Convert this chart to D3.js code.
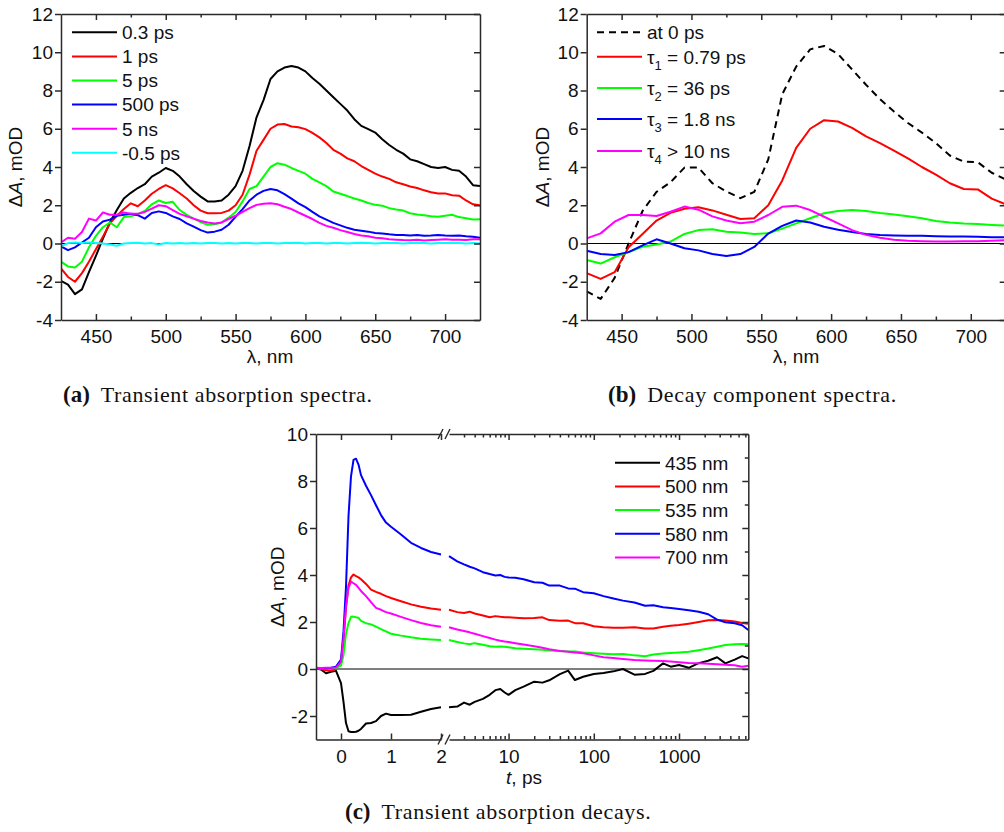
<!DOCTYPE html>
<html>
<head>
<meta charset="utf-8">
<script src="https://cdn.jsdelivr.net/npm/d3@7"></script>
<style>
  html, body { margin: 0; padding: 0; background: #fff; }
  svg { display: block; }
</style>
</head>
<body>
<svg id="fig" width="1004" height="832"></svg>
<script>
// ---------- (a) transient absorption spectra, ΔA (mOD) vs wavelength (nm) ----------
const wavelengthsA = [425,430,435,440,445,450,455,460,465,470,475,480,485,490,495,500,505,510,515,520,
  525,530,535,540,545,550,555,560,565,570,575,580,585,590,595,600,605,610,615,620,
  625,630,635,640,645,650,655,660,665,670,675,680,685,690,695,700,705,710,715,720,725];
const spec03ps = [-1.95,-2.15,-2.65,-2.4,-1.5,-0.65,0.25,1.1,1.75,2.35,
  2.65,2.9,3.1,3.5,3.7,3.95,3.8,3.5,3.1,2.75,
  2.45,2.2,2.2,2.25,2.55,3.0,3.8,5.1,6.6,7.5,
  8.6,9.0,9.2,9.28,9.2,9.0,8.65,8.35,8.0,7.65,
  7.3,6.95,6.5,6.15,5.98,5.8,5.45,5.15,4.9,4.7,
  4.4,4.3,4.15,4.0,3.95,4.0,3.85,3.8,3.5,3.05,3.0];
const spec1ps = [-1.3,-1.75,-2.0,-1.55,-0.95,-0.3,0.35,1.05,1.45,1.8,
  2.1,1.95,2.25,2.6,2.85,3.05,2.88,2.63,2.35,2.0,
  1.72,1.58,1.58,1.6,1.72,2.0,2.55,3.6,4.85,5.42,
  6.0,6.22,6.25,6.12,6.08,5.98,5.78,5.55,5.25,4.9,
  4.7,4.45,4.3,4.05,3.85,3.65,3.5,3.38,3.2,3.1,
  2.98,2.9,2.78,2.68,2.62,2.62,2.52,2.5,2.25,2.05,2.0];
const spec5ps = [-0.95,-1.2,-1.25,-0.95,-0.2,0.4,0.85,1.1,0.85,1.38,
  1.42,1.55,1.7,2.05,2.25,2.12,2.18,1.75,1.5,1.3,
  1.12,0.98,1.0,1.1,1.35,1.65,2.2,2.85,3.0,3.5,
  4.0,4.2,4.12,3.95,3.8,3.65,3.38,3.2,3.0,2.72,
  2.6,2.48,2.35,2.25,2.12,2.02,1.98,1.85,1.78,1.72,
  1.58,1.52,1.48,1.42,1.4,1.45,1.5,1.38,1.32,1.25,1.27];
const spec500ps = [-0.15,-0.35,-0.2,0.05,0.3,0.85,1.15,1.25,1.45,1.5,
  1.55,1.48,1.3,1.6,1.68,1.6,1.42,1.28,1.05,0.88,
  0.7,0.57,0.62,0.72,0.98,1.4,1.8,2.25,2.55,2.75,
  2.85,2.78,2.58,2.35,2.1,1.9,1.65,1.42,1.25,1.08,
  0.95,0.82,0.72,0.67,0.62,0.55,0.52,0.48,0.45,0.45,
  0.42,0.45,0.4,0.42,0.45,0.42,0.4,0.42,0.38,0.35,0.3];
const spec5ns = [0.05,0.3,0.25,0.6,1.3,1.2,1.62,1.5,1.5,1.62,
  1.55,1.55,1.65,1.82,2.0,1.95,1.75,1.55,1.42,1.3,
  1.18,1.1,1.05,1.1,1.28,1.45,1.65,1.85,2.02,2.08,
  2.1,2.05,1.92,1.8,1.62,1.45,1.28,1.08,0.92,0.82,
  0.7,0.6,0.5,0.42,0.38,0.3,0.27,0.22,0.2,0.18,
  0.17,0.2,0.16,0.18,0.2,0.22,0.2,0.2,0.18,0.22,0.22];
const specMinus05ps = [-0.15,0.02,0.05,0.02,0.05,0.03,0.0,-0.05,-0.12,0.0,
  0.02,0.04,0.0,0.02,-0.05,0.03,0.0,0.02,0.0,0.03,
  0.0,0.02,0.03,0.0,0.02,0.0,0.03,0.02,0.0,0.03,
  0.02,0.0,0.03,0.02,0.04,0.0,0.02,0.03,0.0,0.02,
  0.03,0.0,0.02,0.04,0.02,0.0,0.03,0.02,0.03,0.0,
  0.02,0.04,0.02,0.0,0.03,0.02,0.04,0.02,0.0,0.02,0.0];
const delayLabels = ["0.3 ps", "1 ps", "5 ps", "500 ps", "5 ns", "-0.5 ps"];

// ---------- (b) decay-associated component spectra ----------
const wavelengthsB = [425,435,445,455,465,475,485,495,505,515,525,535,545,555,565,575,
  585,595,605,615,625,635,645,655,665,675,685,695,705,715,725];
const compAt0 = [-2.5,-2.9,-1.8,0.0,1.7,2.7,3.2,3.97,3.97,3.15,2.72,2.37,2.7,4.4,7.8,9.25,
  10.15,10.33,9.9,9.1,8.3,7.55,6.9,6.3,5.8,5.25,4.6,4.28,4.25,3.7,3.35];
const compTau1 = [-1.55,-1.85,-1.5,-0.2,0.5,1.2,1.6,1.82,1.9,1.73,1.5,1.28,1.32,2.0,3.3,5.0,
  6.0,6.45,6.38,6.05,5.6,5.25,4.85,4.45,4.0,3.6,3.15,2.85,2.83,2.35,2.05];
const compTau2 = [-0.86,-1.05,-0.72,-0.45,-0.17,-0.05,0.1,0.5,0.7,0.74,0.62,0.57,0.5,0.53,0.78,1.05,
  1.32,1.58,1.7,1.75,1.7,1.6,1.52,1.42,1.32,1.18,1.1,1.04,1.02,0.97,0.93];
const compTau3 = [-0.38,-0.55,-0.6,-0.45,-0.1,0.22,0.0,-0.25,-0.36,-0.55,-0.65,-0.55,-0.18,0.52,0.92,1.2,
  1.1,0.88,0.72,0.6,0.5,0.45,0.42,0.4,0.4,0.38,0.37,0.36,0.35,0.33,0.33];
const compTau4 = [0.27,0.53,1.14,1.49,1.49,1.44,1.66,1.93,1.77,1.42,1.2,1.06,1.14,1.49,1.92,1.98,
  1.75,1.4,1.05,0.7,0.45,0.3,0.2,0.14,0.12,0.1,0.1,0.12,0.12,0.15,0.18];
const componentSubs = ["", "1", "2", "3", "4"];
const componentTexts = ["at 0 ps", " = 0.79 ps", " = 36 ps", " = 1.8 ns", " > 10 ns"];

// ---------- (c) kinetics at selected probe wavelengths ----------
// linear time segment (-0.5 … 2 ps) and logarithmic segment (2 ps … 6.5 ns)
const timesLin = [-0.5,-0.4,-0.3,-0.2,-0.1,0,0.05,0.1,0.15,0.2,0.25,0.3,0.35,0.4,0.5,0.6,0.7,0.8,0.9,1.0,1.2,1.4,1.6,1.8,2.0];
const timesLog = [2,2.5,3,3.5,4,5,6,7,8,9,10,12,15,20,25,30,40,50,60,75,100,130,170,220,300,400,500,650,800,1000,1300,1700,2200,2800,3500,4500,5500,6500];
const kin435Lin = [0.03,-0.02,-0.18,-0.12,-0.08,-0.6,-1.4,-2.3,-2.65,-2.68,-2.68,-2.67,-2.63,-2.55,-2.32,-2.3,-2.22,-2.0,-1.9,-1.96,-1.96,-1.95,-1.82,-1.7,-1.63];
const kin435Log = [-1.63,-1.6,-1.43,-1.52,-1.4,-1.27,-1.1,-0.9,-0.85,-1.0,-1.1,-0.9,-0.75,-0.54,-0.58,-0.48,-0.22,-0.07,-0.47,-0.33,-0.21,-0.17,-0.1,0.0,-0.24,-0.21,-0.08,0.24,0.1,0.17,0.05,0.25,0.35,0.5,0.24,0.4,0.55,0.45];
const kin500Lin = [0.0,0.0,-0.05,-0.08,0.0,0.3,1.2,2.6,3.55,3.9,4.02,3.95,3.9,3.82,3.62,3.38,3.28,3.2,3.1,3.02,2.88,2.75,2.65,2.57,2.52];
const kin500Log = [2.52,2.42,2.38,2.44,2.36,2.28,2.2,2.25,2.22,2.2,2.2,2.18,2.16,2.17,2.2,2.08,2.05,2.06,1.95,1.95,1.82,1.78,1.76,1.76,1.78,1.72,1.72,1.8,1.84,1.87,1.93,2.0,2.07,2.08,2.06,2.02,1.96,1.92];
const kin535Lin = [0.02,0.02,0.02,0.03,0.03,0.15,0.6,1.5,1.95,2.22,2.23,2.2,2.18,2.05,1.95,1.9,1.8,1.7,1.6,1.5,1.42,1.35,1.29,1.26,1.23];
const kin535Log = [1.23,1.15,1.09,1.05,1.1,1.03,0.97,0.95,0.96,0.95,0.93,0.88,0.86,0.84,0.82,0.79,0.77,0.75,0.74,0.7,0.67,0.65,0.63,0.64,0.58,0.54,0.62,0.66,0.68,0.7,0.73,0.8,0.87,0.95,1.02,1.05,1.06,1.05];
const kin580Lin = [0.03,0.03,0.03,0.05,0.1,0.4,1.6,3.5,6.5,8.2,8.9,8.95,8.7,8.25,7.8,7.4,6.97,6.55,6.23,6.05,5.72,5.37,5.15,4.98,4.87];
const kin580Log = [4.8,4.58,4.45,4.35,4.28,4.12,4.04,3.98,4.0,3.92,3.89,3.88,3.82,3.69,3.67,3.55,3.55,3.43,3.42,3.27,3.22,3.1,3.0,2.91,2.83,2.69,2.71,2.63,2.6,2.55,2.5,2.44,2.33,2.1,1.99,1.95,1.86,1.66];
const kin700Lin = [0.05,0.04,0.05,0.05,0.06,0.3,1.3,2.7,3.45,3.72,3.65,3.58,3.45,3.32,3.1,2.85,2.6,2.52,2.42,2.36,2.22,2.08,1.96,1.86,1.8];
const kin700Log = [1.78,1.68,1.62,1.56,1.5,1.4,1.32,1.25,1.2,1.17,1.15,1.1,1.04,0.97,0.9,0.84,0.77,0.73,0.7,0.67,0.58,0.5,0.47,0.43,0.38,0.36,0.35,0.34,0.32,0.29,0.26,0.24,0.22,0.2,0.18,0.16,0.1,0.14];
const probeLabels = ["435 nm", "500 nm", "535 nm", "580 nm", "700 nm"];

// ---------- tick values ----------
const lambdaTicks = [450, 500, 550, 600, 650, 700];
const lambdaMinorTicks = [475, 525, 575, 625, 675];
const dATicksAB = [-4, -2, 0, 2, 4, 6, 8, 10, 12];
const dATicksC = [-2, 0, 2, 4, 6, 8, 10];
const dAMinorTicksC = [-1, 1, 3, 5, 7, 9];
const timeLinTicks = [0, 1, 2];
const timeLogTicks = [10, 100, 1000];
const timeLogMinorTicks = [3,4,5,6,7,8,9,20,30,40,50,60,70,80,90,200,300,400,500,600,700,800,900,2000,3000,4000,5000,6000];

// ---------- drawing ----------
const SANS = "'Liberation Sans', Arial, Helvetica, sans-serif";
const SERIF = "'Liberation Serif', 'Times New Roman', serif";
const AXIS_COLOR = "#2a2a2a";
const FS = 19;
const svg = d3.select("#fig");

function styleAxis(g) {
  g.attr("font-family", SANS).attr("font-size", FS);
  g.selectAll(".domain").attr("stroke", AXIS_COLOR).attr("stroke-width", 1.5);
  g.selectAll(".tick line").attr("stroke", AXIS_COLOR).attr("stroke-width", 1.5);
  g.selectAll(".tick text").attr("fill", "#111");
  return g;
}
const fmt = d => String(d);

function dATitle(g, xPos, yPos) {
  const t = g.append("text")
    .attr("transform", `translate(${xPos},${yPos}) rotate(-90)`)
    .attr("text-anchor", "middle")
    .attr("font-family", SANS).attr("font-size", FS).attr("fill", "#111");
  t.append("tspan").text("Δ");
  t.append("tspan").attr("font-style", "italic").text("A");
  t.append("tspan").text(", mOD");
}

function spectraPanel(opt) {
  const g = svg.append("g");
  const x = d3.scaleLinear().domain([425, 725]).range([opt.left, opt.right]);
  const y = d3.scaleLinear().domain([-4, 12]).range([opt.bottom, opt.top]);

  const clipId = "clip-" + opt.id;
  svg.append("clipPath").attr("id", clipId).append("rect")
    .attr("x", opt.left).attr("y", opt.top)
    .attr("width", opt.right - opt.left).attr("height", opt.bottom - opt.top);

  // zero line
  g.append("line").attr("x1", opt.left).attr("x2", opt.right)
    .attr("y1", y(0)).attr("y2", y(0)).attr("stroke", "#000").attr("stroke-width", 1.2);

  // curves
  const line = d3.line().x(d => x(d[0])).y(d => y(d[1]));
  const cg = g.append("g").attr("clip-path", `url(#${clipId})`);
  opt.series.forEach(s => {
    cg.append("path").datum(d3.zip(opt.lambdas, s.values))
      .attr("d", line).attr("fill", "none")
      .attr("stroke", s.color).attr("stroke-width", 2)
      .attr("stroke-dasharray", s.dash || null)
      .attr("stroke-linejoin", "round");
  });

  // axes
  styleAxis(g.append("g").attr("transform", `translate(0,${opt.bottom})`)
    .call(d3.axisBottom(x).tickValues(lambdaTicks).tickSize(-6).tickSizeOuter(0).tickPadding(10).tickFormat(fmt)));
  styleAxis(g.append("g").attr("transform", `translate(0,${opt.bottom})`)
    .call(d3.axisBottom(x).tickValues(lambdaMinorTicks).tickSize(-3.5).tickSizeOuter(0).tickFormat("")))
    .select(".domain").remove();
  styleAxis(g.append("g").attr("transform", `translate(0,${opt.top})`)
    .call(d3.axisTop(x).tickValues(lambdaTicks).tickSize(-6).tickSizeOuter(0).tickFormat("")));
  styleAxis(g.append("g").attr("transform", `translate(0,${opt.top})`)
    .call(d3.axisTop(x).tickValues(lambdaMinorTicks).tickSize(-3.5).tickSizeOuter(0).tickFormat("")))
    .select(".domain").remove();
  styleAxis(g.append("g").attr("transform", `translate(${opt.left},0)`)
    .call(d3.axisLeft(y).tickValues(dATicksAB).tickSize(6).tickSizeOuter(0).tickPadding(2).tickFormat(fmt)));
  styleAxis(g.append("g").attr("transform", `translate(${opt.right},0)`)
    .call(d3.axisRight(y).tickValues(dATicksAB).tickSize(-6).tickSizeOuter(0).tickFormat("")));

  // axis titles
  g.append("text").attr("x", opt.xTitleX).attr("y", 363).attr("text-anchor", "middle")
    .attr("font-family", SANS).attr("font-size", FS).attr("fill", "#111").text("λ, nm");
  dATitle(g, opt.yTitleX, (opt.top + opt.bottom) / 2);

  // legend
  const lg = g.append("g");
  opt.series.forEach((s, i) => {
    const ly = opt.legendRows[i];
    lg.append("line").attr("x1", opt.legendX).attr("x2", opt.legendX + 45)
      .attr("y1", ly).attr("y2", ly).attr("stroke", s.color).attr("stroke-width", 2)
      .attr("stroke-dasharray", s.dash || null);
    const t = lg.append("text").attr("x", opt.legendX + 50).attr("y", ly + 6.8)
      .attr("font-family", SANS).attr("font-size", FS).attr("fill", "#111");
    if (s.sub) {
      t.append("tspan").text("τ");
      t.append("tspan").attr("font-size", 13).attr("dy", 6).text(s.sub);
      t.append("tspan").attr("dy", -6).text(s.label);
    } else {
      t.text(s.label);
    }
  });
}

// panel (a)
const colorsA = ["#000000", "#ff0000", "#00ff00", "#0000ff", "#ff00ff", "#00ffff"];
spectraPanel({
  id: "a", left: 61, right: 480, top: 14, bottom: 320,
  lambdas: wavelengthsA,
  series: [spec03ps, spec1ps, spec5ps, spec500ps, spec5ns, specMinus05ps]
    .map((v, i) => ({ values: v, color: colorsA[i], label: delayLabels[i] })),
  legendX: 72, legendRows: [32.3, 56.4, 80.5, 104.6, 128.7, 152.8],
  xTitleX: 270, yTitleX: 22
});

// panel (b)
const colorsB = ["#000000", "#ff0000", "#00ff00", "#0000ff", "#ff00ff"];
spectraPanel({
  id: "b", left: 586.7, right: 1005.7, top: 14, bottom: 320,
  lambdas: wavelengthsB,
  series: [compAt0, compTau1, compTau2, compTau3, compTau4]
    .map((v, i) => ({ values: v, color: colorsB[i], label: componentTexts[i],
                      sub: componentSubs[i], dash: i === 0 ? "7,5" : null })),
  legendX: 597, legendRows: [32.3, 56.7, 88, 119, 151],
  xTitleX: 796, yTitleX: 548.5
});

// panel (c): broken time axis
(function kineticsPanel() {
  const L = 316, BL = 441, BR = 449, R = 748.3, T = 434, B = 739.5;
  const g = svg.append("g");
  const xLin = d3.scaleLinear().domain([-0.5, 2]).range([L, BL]);
  const xLog = d3.scaleLog().domain([2, 6500]).range([BR, R]);
  const y = d3.scaleLinear().domain([-3, 10]).range([B, T]);

  svg.append("clipPath").attr("id", "clip-c").append("rect")
    .attr("x", L).attr("y", T).attr("width", R - L).attr("height", B - T);

  g.append("line").attr("x1", L).attr("x2", R).attr("y1", y(0)).attr("y2", y(0))
    .attr("stroke", "#000").attr("stroke-width", 1.2);

  const colorsC = ["#000000", "#ff0000", "#00ff00", "#0000ff", "#ff00ff"];
  const kin = [[kin435Lin, kin435Log], [kin500Lin, kin500Log], [kin535Lin, kin535Log],
               [kin580Lin, kin580Log], [kin700Lin, kin700Log]];
  const lineLin = d3.line().x(d => xLin(d[0])).y(d => y(d[1]));
  const lineLog = d3.line().x(d => xLog(d[0])).y(d => y(d[1]));
  const cg = g.append("g").attr("clip-path", "url(#clip-c)");
  kin.forEach((k, i) => {
    cg.append("path").datum(d3.zip(timesLin, k[0])).attr("d", lineLin)
      .attr("fill", "none").attr("stroke", colorsC[i]).attr("stroke-width", 2).attr("stroke-linejoin", "round");
    cg.append("path").datum(d3.zip(timesLog, k[1])).attr("d", lineLog)
      .attr("fill", "none").attr("stroke", colorsC[i]).attr("stroke-width", 2).attr("stroke-linejoin", "round");
  });

  // bottom & top axes, each in two segments
  [[B, true], [T, false]].forEach(([yy, bottom]) => {
    const mk = s => bottom ? d3.axisBottom(s) : d3.axisTop(s);
    styleAxis(g.append("g").attr("transform", `translate(0,${yy})`)
      .call(mk(xLin).tickValues(timeLinTicks).tickSize(-6).tickSizeOuter(0).tickPadding(10)
        .tickFormat(bottom ? fmt : "")));
    styleAxis(g.append("g").attr("transform", `translate(0,${yy})`)
      .call(mk(xLog).tickValues(timeLogTicks).tickSize(-6).tickSizeOuter(0).tickPadding(10)
        .tickFormat(bottom ? fmt : "")));
    styleAxis(g.append("g").attr("transform", `translate(0,${yy})`)
      .call(mk(xLog).tickValues(timeLogMinorTicks).tickSize(-3.5).tickSizeOuter(0).tickFormat("")))
      .select(".domain").remove();
    // break marks
    [BL - 3, BR - 4].forEach(bx => {
      g.append("line").attr("x1", bx).attr("y1", yy + 5).attr("x2", bx + 5).attr("y2", yy - 5)
        .attr("stroke", AXIS_COLOR).attr("stroke-width", 1.4);
    });
  });

  styleAxis(g.append("g").attr("transform", `translate(${L},0)`)
    .call(d3.axisLeft(y).tickValues(dATicksC).tickSize(6).tickSizeOuter(0).tickPadding(2).tickFormat(fmt)));
  styleAxis(g.append("g").attr("transform", `translate(${R},0)`)
    .call(d3.axisRight(y).tickValues(dATicksC).tickSize(-6).tickSizeOuter(0).tickFormat("")));
  styleAxis(g.append("g").attr("transform", `translate(${R},0)`)
    .call(d3.axisRight(y).tickValues(dAMinorTicksC).tickSize(-3.5).tickSizeOuter(0).tickFormat("")))
    .select(".domain").remove();

  // titles
  const xt = g.append("text").attr("x", 524).attr("y", 784).attr("text-anchor", "middle")
    .attr("font-family", SANS).attr("font-size", FS).attr("fill", "#111");
  xt.append("tspan").attr("font-style", "italic").text("t");
  xt.append("tspan").text(", ps");
  dATitle(g, 283.5, (T + B) / 2);

  // legend
  const legendRows = [462.7, 486.4, 510.1, 533.8, 557.5];
  probeLabels.forEach((lab, i) => {
    g.append("line").attr("x1", 615).attr("x2", 660).attr("y1", legendRows[i]).attr("y2", legendRows[i])
      .attr("stroke", colorsC[i]).attr("stroke-width", 2);
    g.append("text").attr("x", 665).attr("y", legendRows[i] + 6.8)
      .attr("font-family", SANS).attr("font-size", FS).attr("fill", "#111").text(lab);
  });
})();

// sub-figure captions: bold tag followed by the description,
// widened slightly (never more than ~7 %) toward the line end
function caption(x, y, tag, text, endX) {
  const tg = svg.append("text").attr("x", x).attr("y", y)
    .attr("font-family", SERIF).attr("font-size", 23).attr("font-weight", "bold").attr("fill", "#111")
    .text(tag);
  const textX = x + tg.node().getComputedTextLength() + 11;
  const t = svg.append("text").attr("x", textX).attr("y", y)
    .attr("font-family", SERIF).attr("font-size", 22).attr("fill", "#111").text(text);
  const natural = t.node().getComputedTextLength();
  const w = Math.min(endX - textX, natural * 1.07);
  if (w > natural) t.attr("textLength", w).attr("lengthAdjust", "spacing");
}
caption(63, 402, "(a)", "Transient absorption spectra.", 372);
caption(608, 402, "(b)", "Decay component spectra.", 937);
caption(345, 819, "(c)", "Transient absorption decays.", 660);
</script>
</body>
</html>
